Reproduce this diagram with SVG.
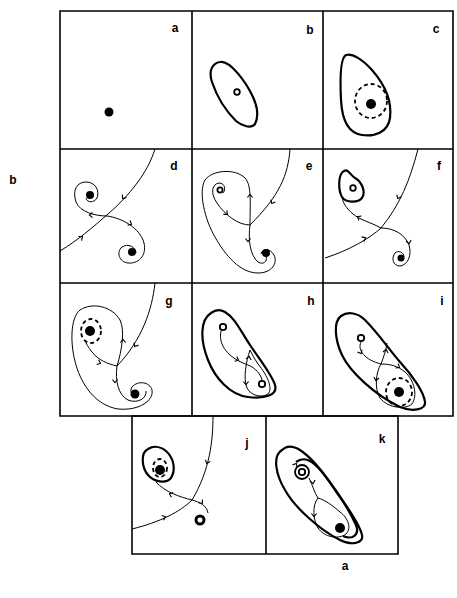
<svg xmlns="http://www.w3.org/2000/svg" xmlns:xlink="http://www.w3.org/1999/xlink" width="457" height="598" viewBox="0 0 457 598">
<style>
.frame{fill:none;stroke:#000;stroke-width:1.6}
.thin{fill:none;stroke:#000;stroke-width:1}
.thick{fill:none;stroke:#000;stroke-width:2.2}
.dash{fill:none;stroke:#000;stroke-width:1.8;stroke-dasharray:4 3}
.dot{fill:#000}
.open{fill:#fff;stroke:#000;stroke-width:1.8}
.arr{fill:none;stroke:#000;stroke-width:1.1}
.lbl{font-family:"Liberation Sans",Arial,sans-serif;font-weight:bold;font-size:12px;fill:#000;text-anchor:middle}
</style>
<defs>
<path id="ar" class="arr" d="M-2.5,-2.6 L0.6,0 L-2.5,2.6"/>
</defs>
<rect width="457" height="598" fill="#fff"/>
<g id="frames">
<path class="frame" d="M60,11 H453 V416 H60 Z M192,11 V416 M323,11 V416 M60,149 H453 M60,283 H453"/>
<path class="frame" d="M132,416 H398 V554 H132 Z M266,416 V554"/>
</g>
<g id="axis-labels">
<text class="lbl" x="13" y="184">b</text>
<text class="lbl" x="345" y="570">a</text>
</g>
<g id="panel-a">
<text class="lbl" x="175" y="32">a</text>
<circle class="dot" cx="109" cy="112" r="4.5"/>
</g>
<g id="panel-b">
<text class="lbl" x="310" y="34">b</text>
<path class="thick" d="M220,62 C230,60 246,82 253,97 C258,108 258,118 255,124 C251,129 242,126 236,121 C228,113 218,100 212,82 C208,70 213,63 220,62 Z"/>
<circle class="open" cx="237" cy="92" r="2.8"/>
</g>
<g id="panel-c">
<text class="lbl" x="436" y="33">c</text>
<path class="thick" d="M346,55 C340,58 340,80 341,100 C342,120 348,133 362,135 C375,137 388,132 390,118 C392,102 386,86 372,70 C362,59 352,53 346,55 Z"/>
<ellipse class="dash" cx="371" cy="101" rx="16" ry="17"/>
<circle class="dot" cx="371" cy="104" r="5"/>
</g>
<g id="panel-d">
<text class="lbl" x="174" y="170">d</text>
<path class="thin" d="M155,149 C148,172 130,195 108,214 C92,228 78,240 60,251"/>
<path class="thin" d="M107,216 C95,216 80,212 76,202 C72,190 77,182 86,182 C95,182 100,190 97,198 C94,203 87,203 86,198"/>
<path class="thin" d="M107,216 C122,218 140,228 144,243 C147,256 138,264 128,263 C119,262 116,252 122,247 C128,243 136,247 136,253"/>
<circle class="dot" cx="90" cy="195" r="4"/>
<circle class="dot" cx="132" cy="252" r="4"/>
<use href="#ar" transform="translate(123,198) rotate(126)"/>
<use href="#ar" transform="translate(82,237) rotate(-37)"/>
<use href="#ar" transform="translate(90,215) rotate(180)"/>
<use href="#ar" transform="translate(131,224) rotate(27)"/>
</g>
<g id="panel-e">
<text class="lbl" x="309" y="170">e</text>
<path class="thin" d="M290,149 C288,175 280,195 250,225"/>
<path class="thin" d="M250,225 C250,205 252,185 245,178 C235,168 212,170 205,180 C198,192 205,220 215,237 C225,255 240,273 258,273 C272,273 278,263 274,255 C270,248 262,248 261,254"/>
<path class="thin" d="M250,225 C238,225 225,215 217,203 C210,193 212,184 219,183 C225,183 226,190 223,193"/>
<path class="thin" d="M250,225 C248,240 250,255 258,262 C263,265 268,262 266,256"/>
<circle class="open" cx="220" cy="190" r="2.6"/>
<circle class="dot" cx="266" cy="253" r="4"/>
<use href="#ar" transform="translate(272,203) rotate(118)"/>
<use href="#ar" transform="translate(250,195) rotate(-90)"/>
<use href="#ar" transform="translate(227,214) rotate(40)"/>
<use href="#ar" transform="translate(248,241) rotate(90)"/>
</g>
<g id="panel-f">
<text class="lbl" x="439" y="170">f</text>
<path class="thin" d="M418,149 C410,180 400,205 381,228 C370,238 350,250 325,258"/>
<path class="thick" d="M344,171 C338,174 338,190 342,197 C346,203 358,203 362,198 C366,192 362,182 355,178 C350,175 348,168 344,171 Z"/>
<circle class="open" cx="353" cy="188" r="2.8"/>
<path class="thin" d="M381,228 C370,222 360,220 353,214 C346,208 343,203 342,197"/>
<path class="thin" d="M381,228 C395,228 405,235 409,245 C412,255 408,265 400,266 C393,266 391,258 395,253 C398,250 404,252 404,257"/>
<circle class="dot" cx="401" cy="258" r="3.5"/>
<use href="#ar" transform="translate(398,198) rotate(115)"/>
<use href="#ar" transform="translate(365,238) rotate(-28)"/>
<use href="#ar" transform="translate(358,217) rotate(-150)"/>
<use href="#ar" transform="translate(409,243) rotate(80)"/>
</g>
<g id="panel-g">
<text class="lbl" x="169" y="305">g</text>
<path class="thin" d="M155,283 C152,310 142,340 117,366"/>
<path class="thin" d="M117,366 C122,350 125,330 120,320 C112,306 92,302 80,310 C70,318 70,345 76,365 C82,385 95,405 118,409 C140,411 154,400 152,390 C150,382 138,380 132,387 C129,392 133,398 138,396"/>
<path class="thin" d="M117,366 C108,364 98,360 92,352 C88,347 86,343 85,341"/>
<path class="thin" d="M117,366 C115,380 118,395 128,400 C138,404 147,398 146,391"/>
<ellipse class="dash" cx="91" cy="331" rx="10" ry="12"/>
<circle class="dot" cx="90" cy="331" r="5"/>
<circle class="dot" cx="135" cy="394" r="4.5"/>
<use href="#ar" transform="translate(135,346) rotate(120)"/>
<use href="#ar" transform="translate(123,340) rotate(-90)"/>
<use href="#ar" transform="translate(100,363) rotate(20)"/>
<use href="#ar" transform="translate(115,382) rotate(90)"/>
</g>
<g id="panel-h">
<text class="lbl" x="311" y="305">h</text>
<path class="thick" d="M211,313 C200,320 200,340 208,360 C215,378 230,395 248,397 C265,399 278,395 275,385 C272,375 260,360 250,345 C240,330 235,318 225,312 C220,309 215,310 211,313 Z"/>
<path class="thin" d="M221,331 C218,345 228,358 248,365 C256,368 261,375 262,380"/>
<path class="thin" d="M250,350 C246,362 243,378 247,388 C251,396 262,398 268,394 C273,389 268,376 258,364 C254,358 252,354 250,350"/>
<circle class="open" cx="223" cy="327" r="3.2"/>
<circle class="open" cx="262" cy="384" r="3.2"/>
<use href="#ar" transform="translate(238,360) rotate(25)"/>
<use href="#ar" transform="translate(249,357) rotate(-80)"/>
<use href="#ar" transform="translate(246,384) rotate(90)"/>
</g>
<g id="panel-i">
<text class="lbl" x="442" y="305">i</text>
<path class="thick" d="M341,316 C333,322 335,340 342,355 C350,372 375,395 400,407 C412,412 426,410 425,402 C424,392 412,375 400,362 C388,348 378,333 365,320 C358,313 348,311 341,316 Z"/>
<path class="thin" d="M361,342 C357,350 365,360 381,364"/>
<path class="thin" d="M381,364 C384,356 386,350 387,343"/>
<path class="thin" d="M381,364 C390,364 398,366 405,372 C414,380 418,395 412,404 C405,410 388,408 380,398 C374,388 376,372 381,364"/>
<circle class="open" cx="361" cy="338" r="3.2"/>
<ellipse class="dash" cx="399" cy="392" rx="13" ry="14"/>
<circle class="dot" cx="399" cy="392" r="5"/>
<use href="#ar" transform="translate(361,353) rotate(60)"/>
<use href="#ar" transform="translate(386,350) rotate(-80)"/>
<use href="#ar" transform="translate(376,380) rotate(100)"/>
<use href="#ar" transform="translate(399,367) rotate(30)"/>
</g>
<g id="panel-j">
<text class="lbl" x="247" y="447">j</text>
<path class="thin" d="M213,416 C213,440 210,470 192,500 C180,512 160,522 132,529"/>
<path class="thick" d="M148,449 C140,453 142,468 148,475 C154,482 166,484 171,478 C176,470 174,458 166,451 C160,446 153,446 148,449 Z"/>
<ellipse class="dash" cx="160" cy="468" rx="7" ry="9"/>
<circle class="dot" cx="160" cy="470" r="5"/>
<path class="thin" d="M192,500 C180,497 165,492 156,482"/>
<path class="thin" d="M192,500 C200,502 207,506 208,513"/>
<circle cx="200" cy="520" r="4" fill="none" stroke="#000" stroke-width="3"/>
<use href="#ar" transform="translate(207,463) rotate(110)"/>
<use href="#ar" transform="translate(165,517) rotate(-20)"/>
<use href="#ar" transform="translate(170,494) rotate(-160)"/>
<use href="#ar" transform="translate(202,503) rotate(50)"/>
</g>
<g id="panel-k">
<text class="lbl" x="382" y="443">k</text>
<path class="thick" d="M282,450 C272,456 276,475 285,490 C295,508 320,530 340,540 C352,546 364,543 362,535 C360,525 348,508 335,490 C322,470 312,458 300,450 C292,445 286,446 282,450 Z"/>
<path class="thick" d="M296,462 C304,456 312,460 322,472 C335,488 348,508 356,525 C360,535 352,540 343,536"/>
<circle cx="302" cy="472" r="7" fill="none" stroke="#000" stroke-width="1.8"/>
<circle class="open" cx="302" cy="472" r="3.2"/>
<path class="thin" d="M309,478 C313,486 314,492 318,498 C312,505 313,520 318,528 C324,537 338,540 346,534 C352,528 348,518 340,512 C332,505 325,500 318,498"/>
<circle class="dot" cx="340" cy="528" r="5"/>
<use href="#ar" transform="translate(313,483) rotate(80)"/>
<use href="#ar" transform="translate(296,464) rotate(-60)"/>
<use href="#ar" transform="translate(314,516) rotate(90)"/>
</g>
</svg>
